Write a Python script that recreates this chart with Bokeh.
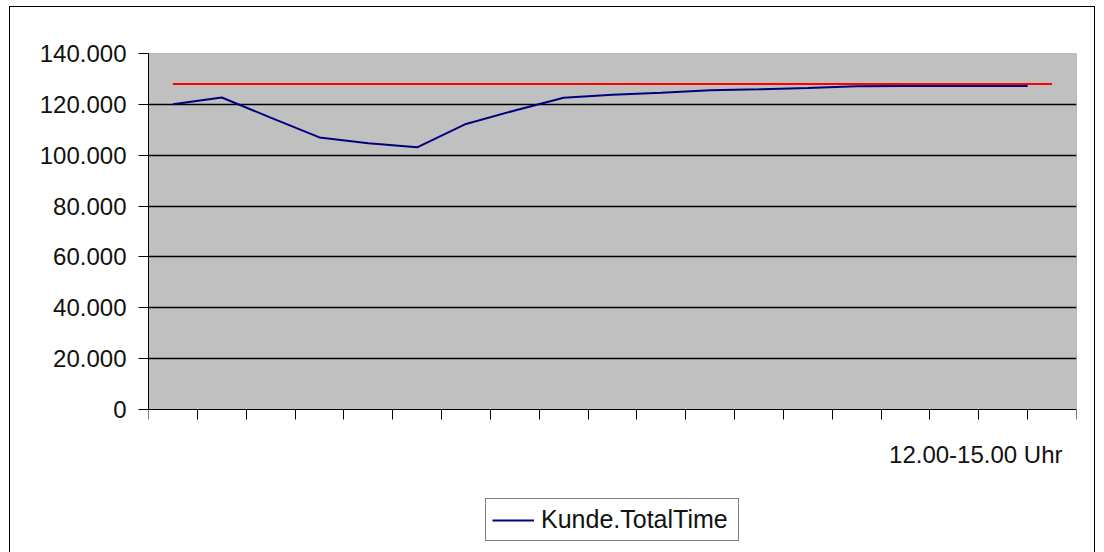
from bokeh.plotting import figure
from bokeh.models import (Range1d, FixedTicker, CustomJSTickFormatter, Legend,
                          LegendItem, Label, BoxAnnotation)
from bokeh.embed import file_html
from bokeh.resources import INLINE

FONT = "Liberation Sans"

# ---- data ----
category_ticks = [0.5, 1.5, 2.5, 3.5, 4.5, 5.5, 6.5, 7.5, 8.5, 9.5, 10.5,
                  11.5, 12.5, 13.5, 14.5, 15.5, 16.5, 17.5, 18.5, 19.5]
blue_x = [1, 2, 3, 4, 5, 6, 7, 8, 9, 10, 11, 12, 13, 14, 15, 16, 17, 18, 18.5]
blue_values = [120000, 122700, 114800, 107000, 104700, 103100, 112300,
               117600, 122600, 123800, 124600, 125500, 125900, 126400,
               127100, 127200, 127200, 127200, 127200]
red_x = [1, 2, 3, 4, 5, 6, 7, 8, 9, 10, 11, 12, 13, 14, 15, 16, 17, 18, 19]
red_values = [128000, 128000, 128000, 128000, 128000, 128000, 128000,
              128000, 128000, 128000, 128000, 128000, 128000, 128000,
              128000, 128000, 128000, 128000, 128000]
y_ticks = [0, 20000, 40000, 60000, 80000, 100000, 120000, 140000]
series_label = "Kunde.TotalTime"
axis_title = "12.00-15.00 Uhr"

# ---- layout (pixels) ----
PLOT_TOP, PLOT_BOTTOM, FRAME_BOTTOM = 53, 409, 542
FRAME_H = FRAME_BOTTOM - PLOT_TOP
y_min = -y_ticks[-1] * (FRAME_BOTTOM - PLOT_BOTTOM) / (PLOT_BOTTOM - PLOT_TOP)

p = figure(frame_width=928, frame_height=FRAME_H,
           x_range=Range1d(category_ticks[0], category_ticks[-1]),
           y_range=Range1d(y_min, y_ticks[-1]),
           output_backend="svg", toolbar_location=None,
           min_border_left=138, min_border_right=18,
           min_border_top=46, min_border_bottom=12,
           background_fill_color="white", border_fill_color="white",
           outline_line_color=None)
p.margin = (7, 10, 0, 10)
p.styles = {"outline": "1px solid black"}

# plot area (gray) behind grid
plot_area = BoxAnnotation(left=category_ticks[0], right=category_ticks[-1],
                          bottom=y_ticks[0], top=y_ticks[-1],
                          fill_color="#C0C0C0", fill_alpha=1.0,
                          line_color="#808080", line_alpha=1.0, line_width=1,
                          level="image")
p.add_layout(plot_area)

# axes
p.xaxis.fixed_location = 0
p.xaxis.ticker = FixedTicker(ticks=category_ticks)
p.xaxis.formatter = CustomJSTickFormatter(code="return '';")
p.xaxis.major_label_standoff = 0
p.xaxis.major_tick_out = 10
p.xaxis.major_tick_in = 0
p.xaxis.minor_tick_out = 0
p.xaxis.minor_tick_in = 0
p.xaxis.axis_line_color = "black"
p.xaxis.major_tick_line_color = "black"

p.yaxis.ticker = FixedTicker(ticks=y_ticks)
p.yaxis.bounds = (y_ticks[0], y_ticks[-1])
p.yaxis.formatter = CustomJSTickFormatter(
    code=r"return Math.round(tick).toString().replace(/\B(?=(\d{3})+(?!\d))/g, '.');")
p.yaxis.major_tick_out = 10
p.yaxis.major_tick_in = 0
p.yaxis.minor_tick_out = 0
p.yaxis.minor_tick_in = 0
p.yaxis.major_label_standoff = 12
p.yaxis.major_label_text_font = FONT
p.yaxis.major_label_text_font_size = "24px"
p.yaxis.major_label_text_color = "#111111"
p.yaxis.axis_line_color = "black"
p.yaxis.major_tick_line_color = "black"

p.xgrid.visible = False
p.ygrid.ticker = FixedTicker(ticks=y_ticks[1:-1])
p.ygrid.grid_line_color = "black"
p.ygrid.grid_line_width = 1.6

r_red = p.line(red_x, red_values, line_color="#FF0000", line_width=2)
r_blue = p.line(blue_x, blue_values, line_color="#000080", line_width=2)

legend = Legend(items=[LegendItem(label=series_label, renderers=[r_blue])],
                location=(337, 1))
legend.border_line_color = "black"
legend.background_fill_color = "white"
legend.label_text_font = FONT
legend.label_text_font_size = "25px"
legend.label_text_color = "#111111"
legend.glyph_width = 42
legend.glyph_height = 20
legend.label_width = 191
legend.padding = 6
legend.spacing = 0
legend.margin = 0
legend.label_standoff = 7
p.add_layout(legend)

title_label = Label(x=914, y=FRAME_BOTTOM - 454, x_units="screen", y_units="screen",
                    text=axis_title, text_align="right",
                    text_baseline="alphabetic", text_font=FONT,
                    text_font_size="24px", text_color="#111111")
p.add_layout(title_label)

open("out.html", "w").write(file_html(p, INLINE))
